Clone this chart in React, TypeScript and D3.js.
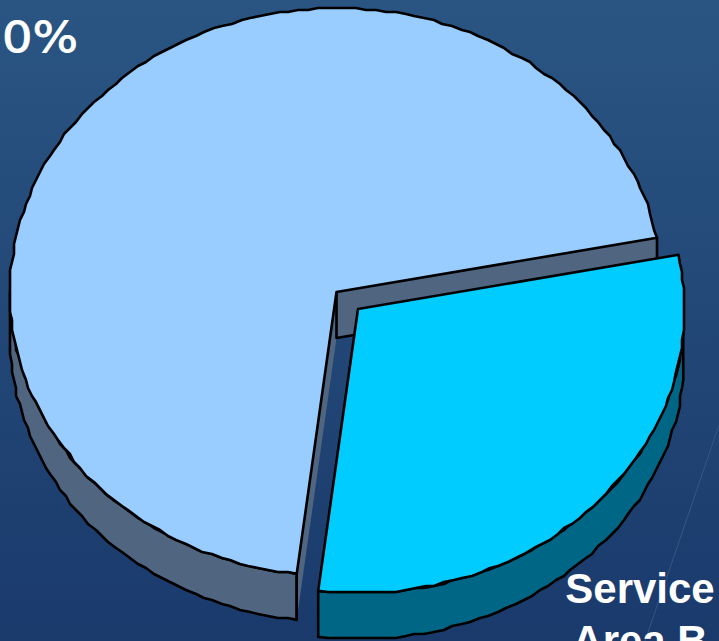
import React from "react";
import * as d3 from "d3";

const categories = ["Service Area A", "Service Area B"];
const shares = [30, 70];
const visibleLabels = ["0%", "Service", "Area B"];

const W = 719, H = 641;
const cx = 336.5, cy = 292, rx = 326.5, ry = 284, depth = 46;
const dx = 21.5, dy = 17;
const startDeg = 79;

const pie = d3.pie<number>().sort(null).startAngle((startDeg * Math.PI) / 180).endAngle(((startDeg + 360) * Math.PI) / 180);
const arcs = pie(shares);
const sx = d3.scaleLinear().domain([-1, 1]).range([cx - rx, cx + rx]);
const sy = d3.scaleLinear().domain([-1, 1]).range([cy - ry, cy + ry]);
const line = d3.line();

const grid = 2;
const wobble = (v: number) => Math.round(v / grid) * grid;
function rim(a0: number, a1: number, ox: number, oy: number): [number, number][] {
  const n = Math.ceil(Math.abs(a1 - a0) / 0.03);
  return d3.range(n + 1).map((i) => {
    const a = a0 + ((a1 - a0) * i) / n;
    const x = sx(Math.sin(a)) + ox, y = sy(-Math.cos(a)) + oy;
    return i > 0 && i < n ? [wobble(x), wobble(y)] : [x, y];
  });
}
const top = (a0: number, a1: number, ox: number, oy: number) =>
  line([[cx + ox, cy + oy], ...rim(a0, a1, ox, oy)])! + "Z";
function side(a0: number, a1: number, ox: number, oy: number) {
  const up = rim(a0, a1, ox, oy);
  const down = up.map(([x, y]) => [x, y + depth] as [number, number]).reverse();
  return line([...up, ...down])! + "Z";
}
const edge = (a: number): [number, number] => [sx(Math.sin(a)), sy(-Math.cos(a))];
function wall(a: number) {
  const p = edge(a);
  return line([[cx, cy], p, [p[0], p[1] + depth], [cx, cy + depth]])! + "Z";
}

const INK = "#000";
const SW = 2.6;

export default function App() {
  const [b, a] = arcs;
  const aStart = a.startAngle, aEnd = a.endAngle;
  const frontEnd = Math.PI * 1.5;
  const ps = edge(aStart), pe = edge(aEnd);
  return (
    <svg width={W} height={H} viewBox={`0 0 ${W} ${H}`} style={{ position: "absolute", left: 0, top: 0 }}>
      <defs>
        <linearGradient id="bg" x1="0" y1="0" x2="0" y2="1">
          <stop offset="0" stopColor="#2a5582" />
          <stop offset="1" stopColor="#1a3a6c" />
        </linearGradient>
      </defs>
      <rect width={W} height={H} fill="url(#bg)" />
      <path d={line([[719, 425], [645, 641]])!} stroke="#3a5c88" strokeWidth={1} fill="none" opacity={0.8} />
      <path d={side(aStart, frontEnd, 0, 0)} fill="#4f6580" stroke={INK} strokeWidth={SW} strokeLinejoin="round" />
      <path d={wall(aEnd)} fill="#4f6580" />
      <path d={wall(aStart)} fill="#4f6580" />
      <path d={line([ps, [ps[0], ps[1] + depth]])!} stroke={INK} strokeWidth={SW} />
      <path d={line([[cx, cy], [cx, cy + depth], [pe[0], pe[1] + depth], pe])!} fill="none" stroke={INK} strokeWidth={SW} strokeLinejoin="round" />
      <path d={top(aStart, aEnd, 0, 0)} fill="#99ccff" stroke={INK} strokeWidth={SW} strokeLinejoin="round" />
      <path d={side(b.startAngle + 0.28, b.endAngle, dx, dy)} fill="#006685" stroke={INK} strokeWidth={SW} strokeLinejoin="round" />
      <path d={top(b.startAngle, b.endAngle, dx, dy)} fill="#00ccff" stroke={INK} strokeWidth={SW} strokeLinejoin="round" />
      <g fill="#fff" fontWeight="bold">
        <text x={2} y={52} fontSize={42} fontFamily="'DejaVu Sans', sans-serif" fontWeight="normal" stroke="#fff" strokeWidth={0.8} textLength={76} lengthAdjust="spacingAndGlyphs" data-c={categories[0]}>{visibleLabels[0]}</text>
        <text x={640} y={603} fontSize={42} fontFamily="'Liberation Sans', sans-serif" textAnchor="middle">{visibleLabels[1]}</text>
        <text x={640} y={655} fontSize={42} fontFamily="'Liberation Sans', sans-serif" textAnchor="middle" data-c={categories[1]}>{visibleLabels[2]}</text>
      </g>
    </svg>
  );
}
